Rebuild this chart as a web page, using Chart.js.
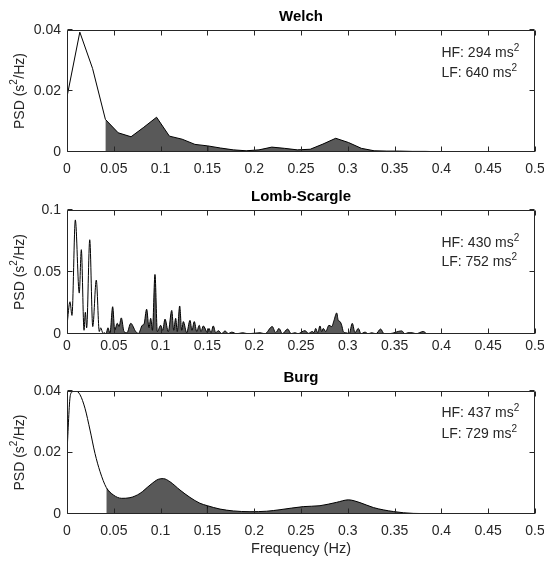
<!DOCTYPE html>
<html><head><meta charset="utf-8">
<script src="https://cdn.jsdelivr.net/npm/chart.js@4/dist/chart.umd.min.js"></script>
<style>
html,body{margin:0;padding:0;background:#fff;}
#wrap{position:relative;width:544px;height:565px;background:#fff;}
canvas{position:absolute;left:0;}
</style></head><body>
<div id="wrap">
<canvas id="c1" width="544" height="182" style="top:0px"></canvas>
<canvas id="c2" width="544" height="182" style="top:182px"></canvas>
<canvas id="c3" width="544" height="201" style="top:364px"></canvas>
</div>
<script>
// ---------------- data ----------------
const xTicks = [0, 0.05, 0.1, 0.15, 0.2, 0.25, 0.3, 0.35, 0.4, 0.45, 0.5];
const xTickLabels = ['0', '0.05', '0.1', '0.15', '0.2', '0.25', '0.3', '0.35', '0.4', '0.45', '0.5'];

const lfBand = [0.04, 0.15];
const hfBand = [0.15, 0.4];

const welchTitle = 'Welch';
const welchYTicks = [0, 0.02, 0.04];
const welchYTickLabels = ['0', '0.02', '0.04'];
const welchHF = 294;
const welchLF = 640;
const welchFreq = [0, 0.0137, 0.0273, 0.041, 0.0547, 0.0684, 0.082, 0.0957, 0.1094, 0.123,
  0.1367, 0.1504, 0.1641, 0.1777, 0.1914, 0.2051, 0.2188, 0.2324, 0.2461, 0.2598,
  0.2734, 0.2871, 0.3008, 0.3145, 0.3281, 0.3418, 0.3555, 0.3691, 0.3828, 0.3965,
  0.4102, 0.4238, 0.4375, 0.4512, 0.4648, 0.4785, 0.4922, 0.5];
const welchPsd = [0.0181, 0.0393, 0.0274, 0.0107, 0.0063, 0.0050, 0.0081, 0.0114, 0.0052, 0.0042,
  0.0025, 0.0020, 0.0013, 0.0007, 0.0004, 0.0007, 0.0016, 0.0012, 0.0007, 0.0009,
  0.0026, 0.0045, 0.0031, 0.0012, 0.0004, 0.0003, 0.0003, 0.0002, 0.0002, 0.0001,
  0.0001, 0.0001, 0.0001, 0.0001, 0.0001, 0.0001, 0.0001, 0.0001];

const lombTitle = 'Lomb-Scargle';
const lombYTicks = [0, 0.05, 0.1];
const lombYTickLabels = ['0', '0.05', '0.1'];
const lombHF = 430;
const lombLF = 752;
const lombFreq = [
  0, 0.0032, 0.0053, 0.0089, 0.0131, 0.0153, 0.0182, 0.0196, 0.0210, 0.0243,
  0.0275, 0.0313, 0.0345, 0.0360, 0.0385, 0.04, 0.0417, 0.0438, 0.0459, 0.0488,
  0.0510, 0.0537, 0.0556, 0.0580, 0.0609, 0.0641, 0.0681, 0.0734, 0.0764, 0.0804,
  0.0823, 0.0851, 0.0876, 0.0894, 0.0913, 0.0940, 0.0965, 0.1001, 0.1022, 0.1047,
  0.1082, 0.1119, 0.1140, 0.1161, 0.1178, 0.1204, 0.1225, 0.1243, 0.1279, 0.1314,
  0.1335, 0.1360, 0.1386, 0.1413, 0.1432, 0.1456, 0.15, 0.1517, 0.1538, 0.1563,
  0.1589, 0.1616, 0.1653, 0.1688, 0.1723, 0.1760, 0.1813, 0.1877, 0.1934, 0.2062,
  0.2115, 0.2193, 0.2230, 0.2265, 0.2300, 0.2358, 0.2393, 0.2436, 0.2468, 0.2543,
  0.2578, 0.2621, 0.2639, 0.2657, 0.2678, 0.2703, 0.2721, 0.2738, 0.2764, 0.2799,
  0.2828, 0.2853, 0.2881, 0.2898, 0.2917, 0.2935, 0.2952, 0.2978, 0.3016, 0.3048,
  0.3077, 0.3112, 0.3141, 0.3184, 0.3219, 0.3255, 0.3301, 0.3351, 0.3387, 0.3451,
  0.3576, 0.3611, 0.3643, 0.3689, 0.3729, 0.3807, 0.3846, 0.4, 0.42, 0.44,
  0.46, 0.5];
const lombPsd = [
  0.007, 0.026, 0.015, 0.092, 0.033, 0.068, 0.003, 0.0175, 0.005, 0.076,
  0.006, 0.0435, 0.002, 0.005, 0.0005, 0.001, 0.0002, 0.005, 0.0005, 0.022,
  0.003, 0.0086, 0.006, 0.013, 0.002, 0.001, 0.0086, 0.002, 0.0005, 0.007,
  0.008, 0.020, 0.005, 0.0127, 0.003, 0.048, 0.002, 0.007, 0.003, 0.012,
  0.002, 0.019, 0.003, 0.0127, 0.002, 0.0226, 0.003, 0.010, 0.001, 0.011,
  0.003, 0.010, 0.002, 0.007, 0.002, 0.0065, 0.0012, 0.0045, 0.001, 0.0065,
  0.001, 0.0027, 0.0003, 0.0025, 0.0003, 0.0015, 0.0002, 0.001, 0.0002, 0.001,
  0.0002, 0.006, 0.001, 0.0045, 0.0002, 0.004, 0.0003, 0.001, 0.0003, 0.0027,
  0.0005, 0.002, 0.001, 0.0045, 0.001, 0.0065, 0.002, 0.0045, 0.002, 0.007,
  0.006, 0.011, 0.017, 0.011, 0.010, 0.007, 0.002, 0.001, 0.0005, 0.0086,
  0.001, 0.0045, 0.0002, 0.0015, 0.0002, 0.001, 0.0002, 0.004, 0.0002, 0.0003,
  0.0025, 0.0002, 0.001, 0.001, 0.0002, 0.002, 0.0002, 0.0003, 0.0002, 0.0001,
  0.0002, 0.0001];

const burgTitle = 'Burg';
const burgYTicks = [0, 0.02, 0.04];
const burgYTickLabels = ['0', '0.02', '0.04'];
const burgHF = 437;
const burgLF = 729;
const burgFreq = [
  0, 0.0035, 0.006, 0.0095, 0.0139, 0.0192, 0.0246, 0.0299, 0.0353, 0.042,
  0.0495, 0.0584, 0.0673, 0.078, 0.0887, 0.0976, 0.1029, 0.11, 0.1207, 0.1314,
  0.142, 0.15, 0.1635, 0.1777, 0.1955, 0.2133, 0.2276, 0.2525, 0.2703, 0.2881,
  0.3006, 0.313, 0.3273, 0.3487, 0.37, 0.4, 0.45, 0.5];
const burgPsd = [
  0.0203, 0.0385, 0.0398, 0.0400, 0.0388, 0.0344, 0.0273, 0.0197, 0.0138, 0.0086,
  0.0062, 0.0051, 0.0053, 0.0067, 0.0094, 0.0113, 0.0115, 0.0105, 0.0078, 0.0054,
  0.0035, 0.0027, 0.0016, 0.0010, 0.00075, 0.0009, 0.0014, 0.0024, 0.0027, 0.0038,
  0.0046, 0.0037, 0.0021, 0.0008, 0.0002, 0.0001, 0.0001, 0.0001];

const annotX = 0.4;
const xAxisTitle = 'Frequency (Hz)';

// ---------------- styling ----------------
const FONT = "'Liberation Sans', Arial, Helvetica, sans-serif";
const TEXT = '#262626';
const FILL = '#595959';

function pts(freq, psd) { return freq.map((f, i) => ({ x: f, y: psd[i] })); }
function bandPts(freq, psd, lo, hi) {
  const eps = 1e-9;
  let i0 = freq.findIndex(f => f >= lo - eps);
  let i1 = freq.findIndex(f => f >= hi - eps);
  if (i1 < 0) i1 = freq.length - 1;
  const out = [];
  for (let i = i0; i <= i1; i++) out.push({ x: freq[i], y: psd[i] });
  return out;
}

function drawSup(ctx, parts, x, y) {
  let cx = x;
  parts.forEach(([t, sup]) => {
    ctx.font = (sup ? '10px ' : '14px ') + FONT;
    ctx.fillText(t, cx, sup ? y - 6 : y);
    cx += ctx.measureText(t).width + (sup ? 0.5 : 0);
  });
  return cx - x;
}
function measureSup(ctx, parts) {
  let w = 0;
  parts.forEach(([t, sup]) => {
    ctx.font = (sup ? '10px ' : '14px ') + FONT;
    w += ctx.measureText(t).width + (sup ? 0.5 : 0);
  });
  return w;
}

const boxPlugin = {
  id: 'matlabBox',
  afterDatasetsDraw(chart) {
    const { ctx, chartArea: a, scales: { x, y } } = chart;
    const o = chart.options.plugins.matlabBox;
    ctx.save();
    ctx.strokeStyle = TEXT;
    ctx.lineWidth = 1;
    const L = Math.round(a.left) + 0.5, R = Math.round(a.right) - 0.5;
    const T = Math.round(a.top) + 0.5, B = Math.round(a.bottom) - 0.5;
    ctx.beginPath();
    ctx.rect(L, T, R - L, B - T);
    const tl = 5;
    xTicks.forEach(v => {
      const px = Math.round(x.getPixelForValue(v)) + 0.5;
      ctx.moveTo(px, B); ctx.lineTo(px, B - tl);
      ctx.moveTo(px, T); ctx.lineTo(px, T + tl);
    });
    o.yTicks.forEach(v => {
      const py = Math.round(y.getPixelForValue(v)) - 0.5;
      ctx.moveTo(L, py); ctx.lineTo(L + tl, py);
      ctx.moveTo(R, py); ctx.lineTo(R - tl, py);
    });
    ctx.stroke();
    ctx.restore();
  },
  afterDraw(chart) {
    const { ctx, chartArea: a, scales: { x } } = chart;
    const o = chart.options.plugins.matlabBox;
    ctx.save();
    ctx.fillStyle = '#000';
    ctx.font = 'bold 15px ' + FONT;
    ctx.textAlign = 'center';
    ctx.textBaseline = 'alphabetic';
    ctx.fillText(o.title, (a.left + a.right) / 2, a.top - 9);
    ctx.fillStyle = TEXT;
    ctx.textAlign = 'left';
    const ax = x.getPixelForValue(annotX);
    drawSup(ctx, [['HF: ' + o.hf + ' ms', false], ['2', true]], ax, a.top + o.annot[0]);
    drawSup(ctx, [['LF: ' + o.lf + ' ms', false], ['2', true]], ax, a.top + o.annot[1]);
    const parts = [['PSD (s', false], ['2', true], ['/Hz)', false]];
    const w = measureSup(ctx, parts);
    ctx.translate(20, (a.top + a.bottom) / 2);
    ctx.rotate(-Math.PI / 2);
    ctx.textBaseline = 'middle';
    drawSup(ctx, parts, -w / 2, 0);
    ctx.restore();
  }
};

function makeChart(id, p) {
  const datasets = [
    { data: pts(p.freq, p.psd), borderColor: '#000', borderWidth: 1, pointRadius: 0, fill: false,
      tension: 0, cubicInterpolationMode: p.mode },
    { data: bandPts(p.freq, p.psd, lfBand[0], lfBand[1]), borderWidth: 0, borderColor: 'rgba(0,0,0,0)', pointRadius: 0,
      backgroundColor: FILL, fill: 'origin', cubicInterpolationMode: p.mode },
    { data: bandPts(p.freq, p.psd, hfBand[0], hfBand[1]), borderWidth: 0, borderColor: 'rgba(0,0,0,0)', pointRadius: 0,
      backgroundColor: FILL, fill: 'origin', cubicInterpolationMode: p.mode }
  ];
  const lfPts = datasets[1].data;
  const edge = lfPts[lfPts.length - 1];
  datasets.splice(1, 0, { data: [{ x: edge.x, y: 0 }, { x: edge.x, y: edge.y }], borderColor: '#000', borderWidth: 1,
    pointRadius: 0, fill: false });

  return new Chart(document.getElementById(id), {
    type: 'line',
    data: { datasets },
    plugins: [boxPlugin],
    options: {
      responsive: false, animation: false, devicePixelRatio: 1,
      layout: { padding: { top: p.padTop, right: 9, left: 0, bottom: 0 } },
      plugins: {
        legend: { display: false }, tooltip: { enabled: false }, title: { display: false },
        matlabBox: { title: p.title, hf: p.hf, lf: p.lf, annot: p.annot, yTicks: p.yTicks }
      },
      scales: {
        x: {
          type: 'linear', min: 0, max: 0.5,
          grid: { display: false, drawTicks: false }, border: { display: false },
          afterBuildTicks: s => { s.ticks = xTicks.map(v => ({ value: v })); },
          afterFit: s => { s.height = p.xAxisHeight; s.paddingLeft = 0; s.paddingRight = 0; },
          ticks: { padding: p.xTickPad, color: TEXT, font: { family: FONT, size: 14 }, maxRotation: 0, autoSkip: false,
            callback: (v, i) => xTickLabels[i] },
          title: { display: p.showXTitle, text: xAxisTitle, color: TEXT, font: { family: FONT, size: 14.5 },
            padding: { top: 0, bottom: 7 } }
        },
        y: {
          type: 'linear', min: 0, max: p.yMax,
          grid: { display: false, drawTicks: false }, border: { display: false },
          afterBuildTicks: s => { s.ticks = p.yTicks.map(v => ({ value: v })); },
          afterFit: s => { s.width = 67; s.paddingTop = 0; s.paddingBottom = 0; },
          ticks: { padding: 6, color: TEXT, font: { family: FONT, size: 14 }, autoSkip: false,
            callback: (v, i) => p.yTickLabels[i] },
          title: { display: false }
        }
      }
    }
  });
}

makeChart('c1', { title: welchTitle, freq: welchFreq, psd: welchPsd, yMax: 0.04, yTicks: welchYTicks,
  yTickLabels: welchYTickLabels, hf: welchHF, lf: welchLF, mode: 'default', padTop: 30, xAxisHeight: 30,
  xTickPad: 9, annot: [27, 47], showXTitle: false });
makeChart('c2', { title: lombTitle, freq: lombFreq, psd: lombPsd, yMax: 0.1, yTicks: lombYTicks,
  yTickLabels: lombYTickLabels, hf: lombHF, lf: lombLF, mode: 'monotone', padTop: 28, xAxisHeight: 30,
  xTickPad: 4, annot: [37, 56], showXTitle: false });
makeChart('c3', { title: burgTitle, freq: burgFreq, psd: burgPsd, yMax: 0.04, yTicks: burgYTicks,
  yTickLabels: burgYTickLabels, hf: burgHF, lf: burgLF, mode: 'monotone', padTop: 27, xAxisHeight: 51,
  xTickPad: 9, annot: [26, 47], showXTitle: true });
</script>
</body></html>
